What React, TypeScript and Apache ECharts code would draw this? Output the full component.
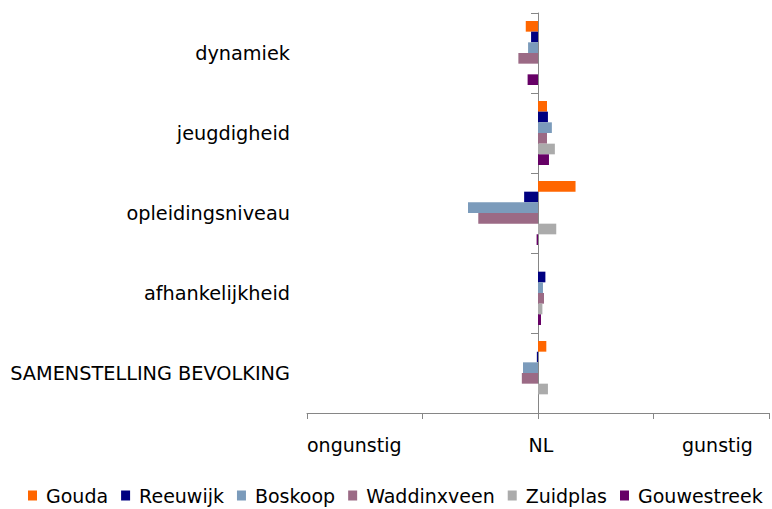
import React, { useEffect, useRef } from "react";
import * as echarts from "echarts";

const categories = ["dynamiek", "jeugdigheid", "opleidingsniveau", "afhankelijkheid", "SAMENSTELLING BEVOLKING"];
const seriesNames = ["Gouda", "Reeuwijk", "Boskoop", "Waddinxveen", "Zuidplas", "Gouwestreek"];
const colors = ["#FF6600", "#000080", "#7B9BBB", "#9B6A85", "#ABABAB", "#660066"];
const gouda = [-0.106, 0.078, 0.325, 0, 0.072];
const reeuwijk = [-0.06, 0.086, -0.12, 0.064, -0.01];
const boskoop = [-0.086, 0.12, -0.606, 0.043, -0.13];
const waddinxveen = [-0.17, 0.078, -0.517, 0.052, -0.14];
const zuidplas = [0, 0.146, 0.158, 0.038, 0.086];
const gouwestreek = [-0.09, 0.095, -0.012, 0.026, 0];
const seriesValues = [gouda, reeuwijk, boskoop, waddinxveen, zuidplas, gouwestreek];
const xTickLabels: Record<string, string> = { "0": "NL" };

const FONT = "DejaVu Sans";
const FS = 19;

export default function App() {
  const ref = useRef<HTMLDivElement>(null);
  useEffect(() => {
    if (!ref.current) return;
    const chart = echarts.init(ref.current, null, { renderer: "svg" });
    chart.setOption({
      animation: false,
      backgroundColor: "#ffffff",
      grid: { left: 307, right: 2, top: 13, bottom: 96, containLabel: false },
      xAxis: {
        type: "value",
        min: -2,
        max: 2,
        interval: 1,
        axisLine: { show: true, onZero: false, lineStyle: { color: "#868686" } },
        axisTick: { show: true, length: 6, lineStyle: { color: "#868686" } },
        splitLine: { show: false },
        axisLabel: {
          margin: 22,
          fontFamily: FONT,
          fontSize: FS,
          color: "#000",
          padding: [0, 0, 0, 6],
          formatter: (v: number) => xTickLabels[String(v)] ?? "",
        },
      },
      yAxis: [
        {
          type: "category",
          data: categories,
          inverse: true,
          position: "left",
          axisLine: { show: false, onZero: false },
          axisTick: { show: false },
          axisLabel: { margin: 17, fontFamily: FONT, fontSize: 19.3, color: "#000" },
        },
        {
          type: "category",
          data: categories,
          inverse: true,
          position: "left",
          axisLine: { show: true, onZero: true, lineStyle: { color: "#868686" } },
          axisTick: { show: true, length: 7, lineStyle: { color: "#868686" } },
          axisLabel: { show: false },
        },
      ],
      legend: {
        bottom: 4,
        left: 28,
        right: 0,
        padding: 0,
        icon: "rect",
        itemWidth: 9,
        itemHeight: 10,
        itemGap: 13,
        textStyle: { fontFamily: FONT, fontSize: 19, color: "#000", padding: [0, 0, 0, 4] },
        data: seriesNames,
      },
      graphic: [
        { type: "text", left: 307, top: 435, style: { text: "ongunstig", fontFamily: FONT, fontSize: FS, fill: "#000" } },
        { type: "text", left: 682, top: 435, style: { text: "gunstig", fontFamily: FONT, fontSize: FS, fill: "#000" } },
      ],
      series: seriesNames.map((name, i) => ({
        name,
        type: "bar",
        yAxisIndex: 0,
        data: seriesValues[i],
        barGap: "0%",
        barCategoryGap: "20%",
        itemStyle: { color: colors[i] },
      })),
    });
    return () => chart.dispose();
  }, []);
  return <div ref={ref} style={{ position: "fixed", left: 0, top: 0, width: 772, height: 509 }} />;
}
